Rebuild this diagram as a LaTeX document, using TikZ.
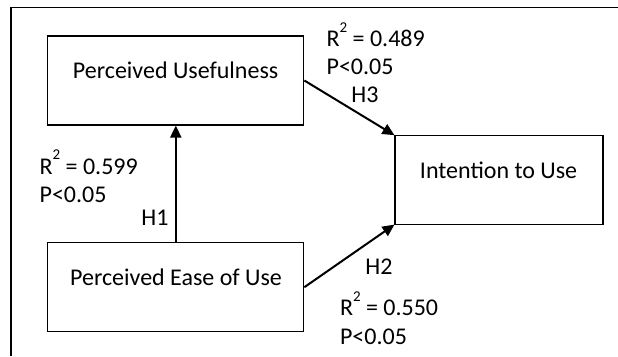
\documentclass[tikz,border=0pt]{standalone}
\usepackage{fontspec}
\setmainfont{Carlito}
\usetikzlibrary{arrows.meta}
\newcommand{\rsq}{R\raisebox{0.6em}{\fontsize{15bp}{15bp}\selectfont 2}}
\begin{document}
\begin{tikzpicture}[x=1bp,y=-1bp,
  box/.style={draw, line width=1.1bp, inner sep=0pt},
  txt/.style={inner sep=0pt, font=\fontsize{24bp}{28bp}\selectfont},
  lbl/.style={txt, anchor=west},
  arr/.style={line width=2bp, -{Triangle[length=12bp,width=11bp]}}]
  \useasboundingbox (0,0) rectangle (618,356);
  % outer frame (top and left edges only)
  \draw[line width=1.2bp] (11,356) -- (11,7.3) -- (618,7.3);
  % constructs
  \node[box, minimum width=256bp, minimum height=89bp] (pu)  at (175.8,80.5) {};
  \node[box, minimum width=256bp, minimum height=89bp] (peu) at (175.8,287.2) {};
  \node[box, minimum width=208bp, minimum height=88.3bp] (itu) at (499,179.9) {};
  \node[txt] (putext)  at (175.6,70.5)  {Perceived Usefulness};
  \node[txt] (peutext) at (176,277)   {Perceived Ease of Use};
  \node[txt] (itutext) at (498.6,170.5) {Intention to Use};
  % hypothesised paths
  \draw[arr] (peu.north) -- (pu.south);
  \draw[arr] (pu.east) -- (itu.north west);
  \draw[arr] (peu.east) -- (itu.south west);
  % path labels
  \node[lbl, anchor=base west] (r1) at (39.4,174) {\rsq{} = 0.599};
  \node[lbl] (p1) at (39.4,195)   {P<0.05};
  \node[txt] (h1) at (155,218)    {H1};
  \node[lbl, anchor=base west] (r3) at (326.4,46.5) {\rsq{} = 0.489};
  \node[lbl] (p3) at (326.4,67.3) {P<0.05};
  \node[txt] (h3) at (365,94.3)   {H3};
  \node[txt] (h2) at (379,266.7)  {H2};
  \node[lbl, anchor=base west] (r2) at (339.8,315.5) {\rsq{} = 0.550};
  \node[lbl] (p2) at (339.8,336.7) {P<0.05};
\end{tikzpicture}
\end{document}
